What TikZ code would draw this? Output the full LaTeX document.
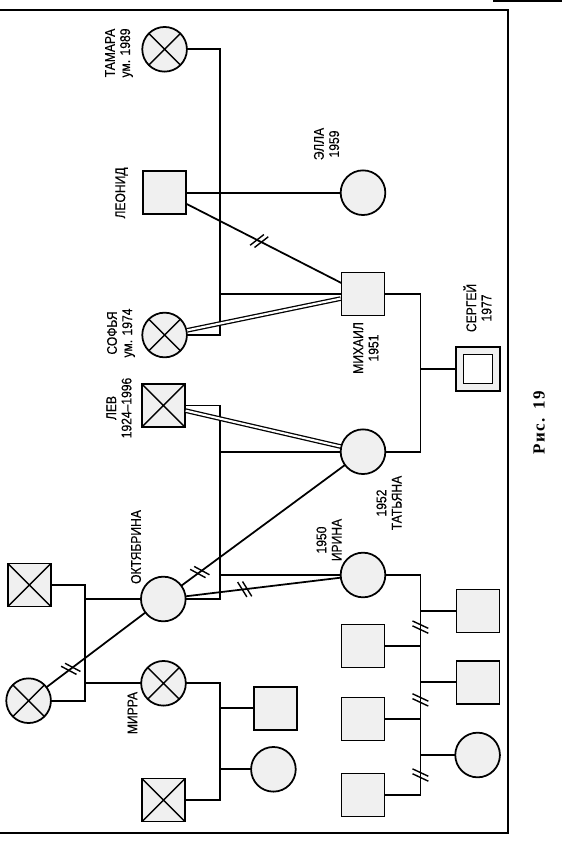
\documentclass[tikz,border=0pt]{standalone}
\usepackage{fontspec}
\setmainfont{Liberation Sans}[FakeStretch=0.86, FakeBold=0.3]
\newfontfamily\capfont{Liberation Serif}[LetterSpace=10]
\usetikzlibrary{decorations.markings}

\begin{document}
\begin{tikzpicture}[x=0.3mm, y=-0.3mm, line width=1.5pt, line cap=rect,
    male/.style={draw, rectangle, minimum size=12.9mm, inner sep=0pt, fill=gray!12},
    female/.style={draw, circle, minimum size=13.4mm, inner sep=0pt, fill=gray!12},
    dead/.style={path picture={\draw[line width=1.2pt]
        (path picture bounding box.north west) -- (path picture bounding box.south east)
        (path picture bounding box.north east) -- (path picture bounding box.south west);}},
    lbl/.style={rotate=90, align=center, inner sep=0pt, font=\fontsize{12}{13}\selectfont},
    close/.style={double, line cap=butt, line width=1.1pt, double distance=1.8pt},
    cutoff/.style={postaction={decorate, decoration={markings, mark=at position #1 with
        {\draw[line width=1.2pt] (-5pt,-6.2pt) -- (0.8pt,6.2pt) (-0.8pt,-6.2pt) -- (5pt,6.2pt);}}}},
    cutoffr/.style={postaction={decorate, decoration={markings, mark=at position #1 with
        {\draw[line width=1.2pt] (-5pt,6.2pt) -- (0.8pt,-6.2pt) (-0.8pt,6.2pt) -- (5pt,-6.2pt);}}}}]
  \useasboundingbox (0,0) rectangle (561,858);
  \draw[line width=1pt] (0,10) -- (508,10) -- (508,833) -- (0,833);
  \draw[line width=2.5pt] (494,1) -- (561,1);

  \node[female, dead] (tamara) at (164.6,49.3) {};
  \node[male] (leonid) at (164.6,192.7) {};
  \node[female] (ella) at (363,192.7) {};
  \node[male] (mikhail) at (363,294) {};
  \node[female, dead] (sofia) at (164.6,335) {};
  \node[male, dead] (lev) at (163.3,405.5) {};
  \node[male, minimum size=13.2mm] (sergei) at (478,369) {};
  \node[draw, fill=white, minimum size=8.7mm, inner sep=0pt] (sergeiin) at (sergei) {};
  \node[female] (tatiana) at (363,451.7) {};
  \node[female] (irina) at (363,575) {};
  \node[female] (okt) at (163.3,599) {};
  \node[male, dead] (oktfather) at (29.3,585) {};
  \node[female, dead] (oktmother) at (28.6,700.7) {};
  \node[female, dead] (mirra) at (163.5,683.3) {};
  \node[male, dead] (mirrahusband) at (163.5,800) {};
  \node[male] (mirrason) at (275.5,708.3) {};
  \node[female] (mirradaughter) at (273.4,769.3) {};
  \node[male] (irinah1) at (363,646) {};
  \node[male] (irinah2) at (363,719) {};
  \node[male] (irinah3) at (363,795) {};
  \node[male] (irinac1) at (478,611) {};
  \node[male] (irinac2) at (478,682.3) {};
  \node[female] (irinac3) at (477.6,755) {};

  \node[lbl] (tamaralbl) at (119,53) {ТАМАРА\\ум. 1989};
  \node[lbl] (leonidlbl) at (121.6,193) {ЛЕОНИД};
  \node[lbl] (ellalbl) at (326.5,144) {ЭЛЛА\\1959};
  \node[lbl] (sofialbl) at (121,333) {СОФЬЯ\\ум. 1974};
  \node[lbl] (levlbl) at (119,408) {ЛЕВ\\1924--1996};
  \node[lbl] (mikhaillbl) at (366,348) {МИХАИЛ\\1951};
  \node[lbl] (sergeilbl) at (477.5,308) {СЕРГЕЙ\\1977};
  \node[lbl] (tatianalbl) at (389,503) {1952\\ТАТЬЯНА};
  \node[lbl] (irinalbl) at (329,540) {1950\\ИРИНА};
  \node[lbl] (oktlbl) at (136,547) {ОКТЯБРИНА};
  \node[lbl] (mirralbl) at (132.4,713) {МИРРА};
  \node[rotate=90, font=\capfont\bfseries\fontsize{14.5}{16}\selectfont] (caption) at (539,423) {Рис. 19};

  \coordinate (ts) at (220,250);
  \coordinate (lo) at (220,500);
  \coordinate (pm) at (84.8,640);
  \coordinate (mh) at (220,740);
  \coordinate (mt) at (420.4,370);
  \coordinate (j1) at (420.4,611);
  \coordinate (j2) at (420.4,646);
  \coordinate (j3) at (420.4,682.3);
  \coordinate (j4) at (420.4,719);
  \coordinate (j5) at (420.4,755);
  \coordinate (j6) at (420.4,795);

  \draw (tamara) -| (ts) |- (sofia);
  \draw (leonid) -- (ella);
  \draw (ts |- mikhail) -- (mikhail);
  \draw[cutoff=.47] (leonid) -- (mikhail);
  \draw[close] (sofia) -- (mikhail);
  \draw (mikhail) -| (mt) |- (tatiana);
  \draw (mt |- sergei) -- (sergei);
  \draw (lev) -| (lo) |- (okt);
  \draw (lo |- tatiana) -- (tatiana);
  \draw (lo |- irina) -- (irina);
  \draw[close] (lev) -- (tatiana);
  \draw[cutoffr=.89] (tatiana) -- (okt);
  \draw[cutoffr=.38] (okt) -- (irina);
  \draw (oktfather) -| (pm) |- (oktmother);
  \draw (pm |- okt) -- (okt);
  \draw (pm |- mirra) -- (mirra);
  \draw[cutoffr=.76] (okt) -- (oktmother);
  \draw (mirra) -| (mh) |- (mirrahusband);
  \draw (mh |- mirrason) -- (mirrason);
  \draw (mh |- mirradaughter) -- (mirradaughter);
  \draw (irina) -| (j1);
  \draw[cutoff=.46] (j1) -- (j2);
  \draw (j2) -- (j3);
  \draw[cutoff=.48] (j3) -- (j4);
  \draw (j4) -- (j5);
  \draw[cutoff=.5] (j5) -- (j6);
  \draw (j1) -- (irinac1);
  \draw (j2) -- (irinah1);
  \draw (j3) -- (irinac2);
  \draw (j4) -- (irinah2);
  \draw (j5) -- (irinac3);
  \draw (j6) -- (irinah3);
\end{tikzpicture}
\end{document}
